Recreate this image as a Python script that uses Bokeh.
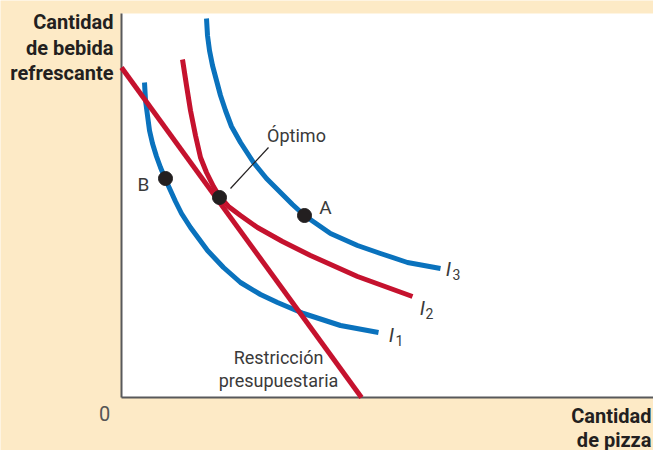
from bokeh.plotting import figure
from bokeh.models import Label, Range1d, BoxAnnotation
from bokeh.embed import file_html
from bokeh.resources import INLINE

# Budget line (restricción presupuestaria)
budget_x = [0.0, 24.0]
budget_y = [33.0, 0.0]

# Indifference curves
i1_x = [2.3, 2.4, 2.6, 2.8, 3.1, 3.5, 3.9, 4.4, 4.9, 5.4, 6.0, 6.9, 8.6, 10.2, 11.9, 13.9, 15.6, 18.2, 21.9, 25.7]
i1_y = [31.5, 29.7, 28.2, 26.7, 25.4, 24.1, 23.0, 21.8, 20.7, 19.6, 18.4, 17.0, 14.7, 13.0, 11.5, 10.3, 9.5, 8.4, 7.2, 6.5]

i2_x = [6.1, 6.5, 6.9, 7.4, 7.9, 8.5, 9.2, 9.8, 10.7, 11.9, 13.6, 16.1, 18.9, 23.6, 29.1]
i2_y = [33.8, 31.2, 28.7, 26.2, 24.0, 22.5, 21.1, 20.1, 19.1, 18.2, 17.0, 15.6, 14.2, 12.1, 10.1]

i3_x = [8.5, 8.6, 8.8, 9.1, 9.5, 9.9, 10.4, 11.0, 11.9, 13.2, 14.5, 15.9, 17.1, 18.3, 20.9, 23.6, 25.9, 28.6, 31.9]
i3_y = [37.9, 36.2, 34.7, 33.2, 31.7, 30.2, 28.7, 27.1, 25.5, 23.5, 21.9, 20.5, 19.3, 18.2, 16.4, 15.2, 14.4, 13.5, 12.9]

# Points B, Óptimo, A
pt_x = [4.4, 9.8, 18.3]
pt_y = [21.9, 20.0, 18.2]

# Axis extents
x_max = 53.2
y_max = 38.4

BLUE = "#0a72bd"
RED = "#c5122e"
CREAM = "#fdeac6"
TXT = "#3a3a3a"
DARK = "#231f20"
AXIS = "#58595b"
FONT = "Roboto"

p = figure(width=653, height=450, output_backend="svg", toolbar_location=None,
           x_range=Range1d(-12.1, 53.2), y_range=Range1d(-5.3, 39.7),
           min_border=0)
p.axis.visible = False
p.grid.visible = False
p.outline_line_color = None
p.background_fill_color = CREAM
p.border_fill_color = CREAM

# white plotting quadrant
p.add_layout(BoxAnnotation(left=0, bottom=0, top=y_max, fill_color="white", fill_alpha=1,
                           line_color=None, level="underlay"))

# axes
p.line([0, 0], [0, y_max], line_color=AXIS, line_width=2)
p.line([0, x_max], [0, 0], line_color=AXIS, line_width=2)

p.line(i1_x, i1_y, line_color=BLUE, line_width=5, line_join="round")
p.line(i3_x, i3_y, line_color=BLUE, line_width=5, line_join="round")
p.line(budget_x, budget_y, line_color=RED, line_width=5)
p.line(i2_x, i2_y, line_color=RED, line_width=5, line_join="round")

# leader line to optimum
p.line([10.9, 14.7], [20.9, 25.0], line_color=DARK, line_width=1.2)

p.scatter(pt_x, pt_y, size=14, fill_color=DARK, line_color=DARK)


def lab(x, y, t, size=18, align="center", style="normal", color=TXT, baseline="middle"):
    p.add_layout(Label(x=x, y=y, text=t, text_font=FONT, text_font_size=f"{size}px",
                       text_align=align, text_baseline=baseline, text_font_style=style,
                       text_color=color))


lab(17.5, 26.2, "Óptimo")
lab(2.2, 21.3, "B", 19)
lab(20.4, 19.0, "A", 19)

# curve labels
lab(32.7, 12.9, "I", 20, style="italic")
lab(33.5, 12.3, "3", 14)
lab(30.1, 9.0, "I", 20, style="italic")
lab(30.8, 8.4, "2", 14)
lab(27.0, 6.3, "I", 20, style="italic")
lab(27.8, 5.7, "1", 14)

lab(15.7, 4.0, "Restricción")
lab(15.7, 1.7, "presupuestaria")

lab(-1.7, -1.6, "0", 20, color="#555555")

# axis titles
lab(-0.8, 37.6, "Cantidad", 20, align="right", style="bold", color=DARK)
lab(-0.8, 35.0, "de bebida", 20, align="right", style="bold", color=DARK)
lab(-0.8, 32.5, "refrescante", 20, align="right", style="bold", color=DARK)
lab(53.0, -1.8, "Cantidad", 20, align="right", style="bold", color=DARK)
lab(53.0, -4.2, "de pizza", 20, align="right", style="bold", color=DARK)

open("out.html", "w").write(file_html(p, INLINE))
